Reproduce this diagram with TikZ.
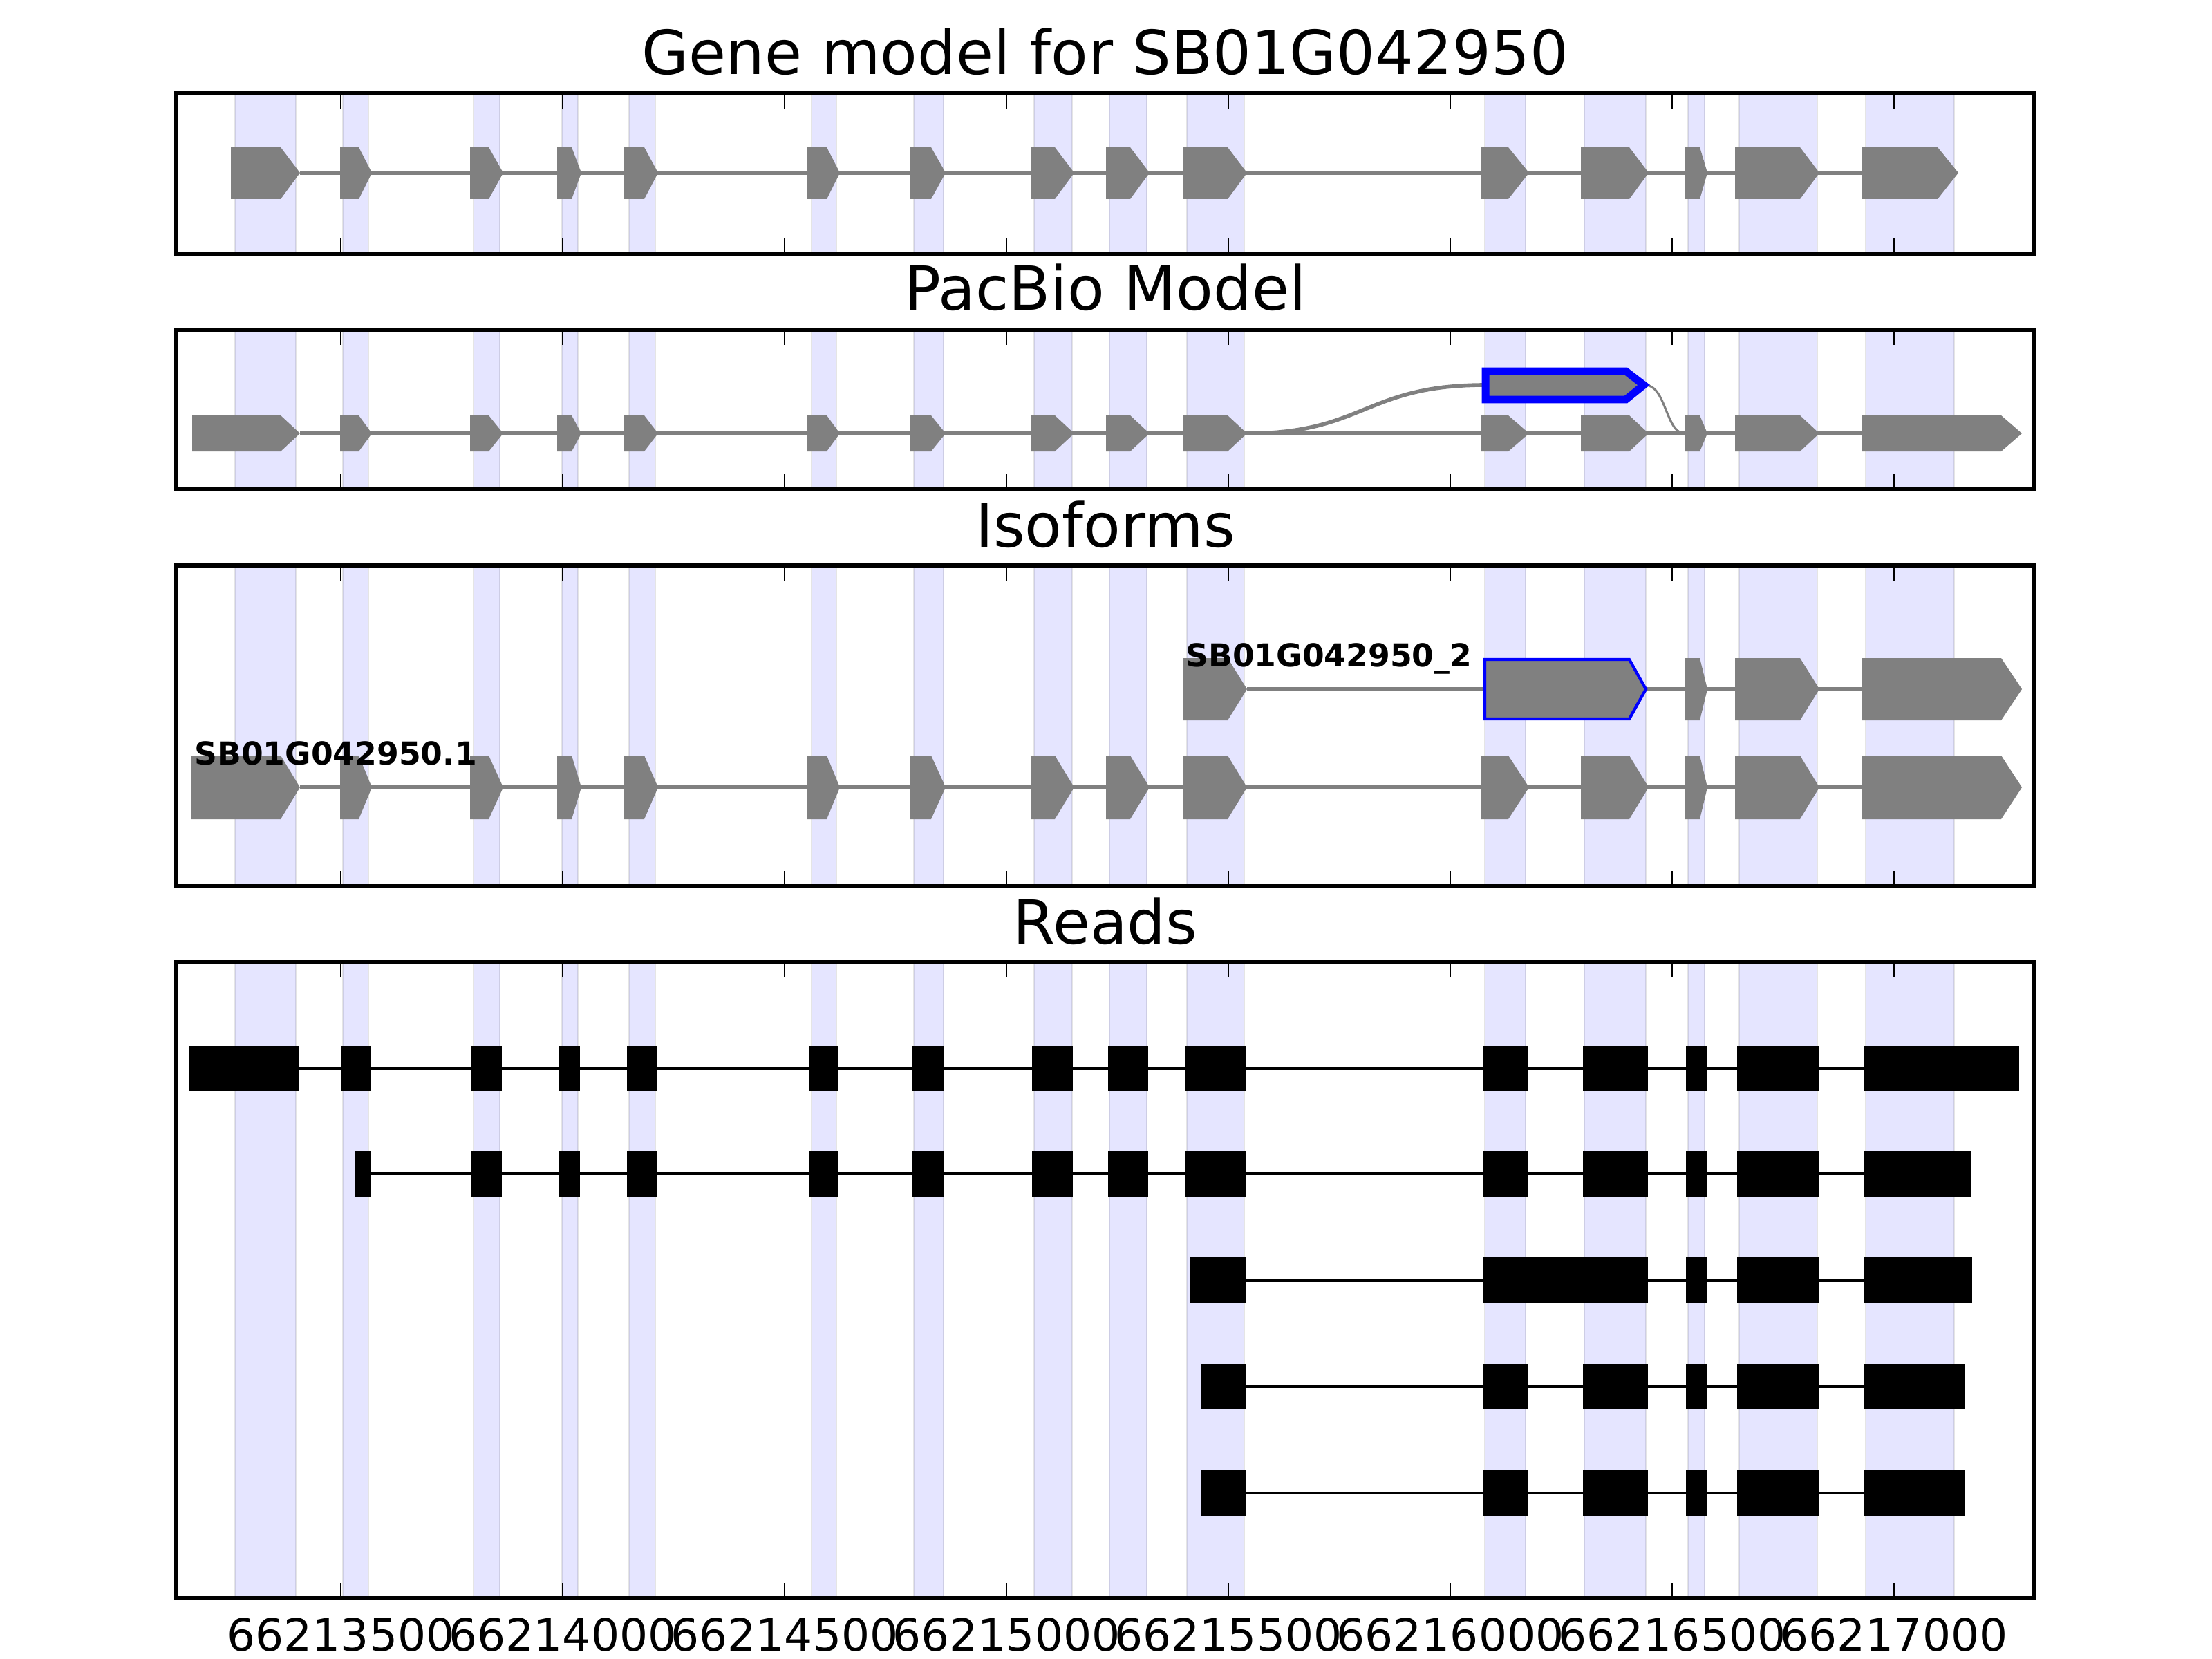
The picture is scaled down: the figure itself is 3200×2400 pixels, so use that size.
\documentclass[tikz,border=0pt]{standalone}
\usepackage{fontspec}
\setmainfont{DejaVu Sans}

\def\bands{340/428,496/533,685/723,813/836,910/948,1174/1210,1322/1365,1496/1551,1605/1659,1717/1800,2148/2207,2292/2381,2442/2466,2516/2629,2699/2827}
\def\genemid{492/519/538,680/707/728,806/827/841,903/932/952,1168/1196/1215,1317/1347/1368,1491/1526/1554,1600/1635/1663,1712/1776/1804,2143/2182/2212,2287/2357/2385,2437/2459/2470,2510/2604/2632}
\edef\genemodel{334/406/434,\genemid,2694/2803/2833}
\edef\pacbio{278/406/434,\genemid,2694/2895/2925}
\edef\isoone{276/406/434,\genemid,2694/2895/2925}
\def\readmid{682/726,809/839,907/951,1171/1213,1320/1366,1493/1552,1603/1661,1714/1803,2145/2210,2290/2384,2439/2469,2513/2631}
\edef\readA{273/432,494/536,\readmid,2696/2921}
\edef\readB{514/536,\readmid,2696/2851}

\begin{document}
\begin{tikzpicture}[x=0.005cm, y=-0.005cm,
band/.style={fill=blue, fill opacity=0.1, draw=black, draw opacity=0.1, line width=0.4pt},
exon/.style={fill=gray},
intron/.style={draw=gray, line width=0.8pt},
read/.style={fill=black},
readline/.style={draw=black, line width=0.65pt},
axframe/.style={draw=black, line width=0.75pt},
axtick/.style={draw=black, line width=0.4pt},
paneltitle/.style={anchor=base, inner sep=0, font=\fontsize{12.5}{15}\selectfont},
isolabel/.style={anchor=base west, inner sep=0, font=\fontsize{6.5}{8}\selectfont\bfseries},
ticklabel/.style={anchor=base, inner sep=0, font=\fontsize{9.2}{11}\selectfont}]
\fill[white] (0,0) rectangle (3200,2400);
\useasboundingbox (0,0) rectangle (3200,2400);

\foreach \ya/\yb in {135/367,477/708,818/1282,1392/2312}
  \foreach \a/\b in \bands
    \path[band] (\a,\ya) rectangle (\b,\yb);

\draw[intron] (434,250) -- (2694,250);
\foreach \s/\r/\t in \genemodel
  \fill[exon] (\s,213) -- (\r,213) -- (\t,250) -- (\r,288) -- (\s,288) -- cycle;

\draw[intron] (434,627) -- (2694,627);
\foreach \s/\r/\t in \pacbio
  \fill[exon] (\s,601) -- (\r,601) -- (\t,627) -- (\r,653) -- (\s,653) -- cycle;
\draw[intron] (1804,627) .. controls (1974,627) and (1974,557) .. (2149,557);
\draw[draw=gray, line width=0.45pt] (2380,557) .. controls (2410,557) and (2410,627) .. (2437,627);
\filldraw[fill=gray, draw=blue, line width=1.56pt] (2149,537) -- (2352,537) -- (2378,557) -- (2352,578) -- (2149,578) -- cycle;

\draw[intron] (1804,997) -- (2696,997);
\foreach \s/\r/\t in {1712/1776/1804,2437/2459/2470,2510/2604/2632,2694/2895/2925}
  \fill[exon] (\s,952) -- (\r,952) -- (\t,997) -- (\r,1042) -- (\s,1042) -- cycle;
\filldraw[fill=gray, draw=blue, line width=0.6pt] (2148,954) -- (2357,954) -- (2381,997) -- (2357,1040) -- (2148,1040) -- cycle;
\draw[intron] (434,1139) -- (2694,1139);
\foreach \s/\r/\t in \isoone
  \fill[exon] (\s,1093) -- (\r,1093) -- (\t,1139) -- (\r,1185) -- (\s,1185) -- cycle;
\node[isolabel] (iso-one) at (280,1106) {SB01G042950.1};
\node[isolabel] (iso-two) at (1714,964) {SB01G042950\_2};

\draw[readline] (273,1546) -- (2921,1546);
\foreach \a/\b in \readA
  \fill[read] (\a,1513) rectangle (\b,1579);
\draw[readline] (514,1698) -- (2851,1698);
\foreach \a/\b in \readB
  \fill[read] (\a,1665) rectangle (\b,1731);
\draw[readline] (1722,1852) -- (2853,1852);
\foreach \a/\b in {1722/1803,2145/2384,2439/2469,2513/2631,2696/2853}
  \fill[read] (\a,1819) rectangle (\b,1885);
\foreach \c in {2006,2160}{
  \draw[readline] (1737,\c) -- (2842,\c);
  \foreach \a/\b in {1737/1803,2145/2210,2290/2384,2439/2469,2513/2631,2696/2842}
    \fill[read] (\a,\c-33) rectangle (\b,\c+33);
}

\foreach \ya/\yb in {135/367,477/708,818/1282,1392/2312}{
  \foreach \x in {493,814,1135,1456,1777,2098,2419,2740}{
    \draw[axtick] (\x,\ya) -- ++(0,22);
    \draw[axtick] (\x,\yb) -- ++(0,-22);
  }
  \draw[axframe] (255,\ya) rectangle (2943,\yb);
}

\node[paneltitle] (ttl-gene) at (1599,108) {Gene model for SB01G042950};
\node[paneltitle] (ttl-pacbio) at (1599,449) {PacBio Model};
\node[paneltitle] (ttl-iso) at (1599,791) {Isoforms};
\node[paneltitle] (ttl-reads) at (1599,1365) {Reads};
\foreach \x/\lab in {493/66213500,814/66214000,1135/66214500,1456/66215000,1777/66215500,2098/66216000,2419/66216500,2740/66217000}
  \node[ticklabel] (xl\lab) at (\x,2388) {\lab};
\end{tikzpicture}
\end{document}
